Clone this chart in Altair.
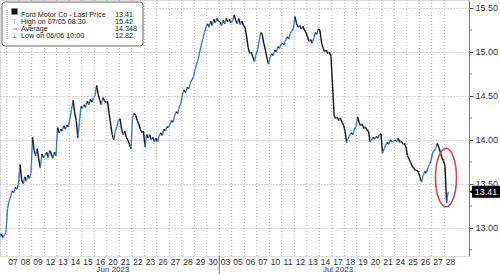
import altair as alt
import pandas as pd

# ---- data -------------------------------------------------------------
day_labels = ["06", "07", "08", "09", "12", "13", "14", "15", "16", "20", "21", "22",
              "23", "26", "27", "28", "29", "30", "03", "05", "06", "07", "10", "11",
              "12", "13", "14", "17", "18", "19", "20", "21", "24", "25", "26", "27", "28"]
month_names = ["Jun 2023", "Jul 2023"]
month_of_day = ["Jun"] * 18 + ["Jul"] * 19

prices = [
    [12.92, 12.88, 12.84, 12.90, 12.93, 12.89, 12.92, 12.95],  # Jun 06
    [13.22, 13.30, 13.36, 13.42, 13.40, 13.46, 13.44, 13.50],  # Jun 07
    [13.72, 13.55, 13.50, 13.58, 13.53, 13.60, 13.56, 13.62],  # Jun 08
    [14.03, 13.88, 13.82, 13.90, 13.78, 13.68, 13.84, 13.80],  # Jun 09
    [13.82, 13.86, 13.80, 13.88, 13.84, 13.79, 13.86, 13.82],  # Jun 12
    [14.14, 14.08, 14.12, 14.10, 14.16, 14.12, 14.17, 14.15],  # Jun 13
    [14.25, 14.35, 14.45, 14.30, 14.22, 14.02, 14.20, 14.38],  # Jun 14
    [14.36, 14.40, 14.37, 14.44, 14.40, 14.46, 14.43, 14.48],  # Jun 15
    [14.50, 14.62, 14.52, 14.45, 14.40, 14.48, 14.45, 14.42],  # Jun 16
    [14.44, 14.30, 14.18, 14.06, 14.00, 14.10, 14.15, 14.22],  # Jun 20
    [14.24, 14.12, 14.06, 14.10, 14.03, 14.00, 13.95, 13.90],  # Jun 21
    [14.25, 14.30, 14.28, 14.22, 14.18, 14.12, 14.08, 14.10],  # Jun 22
    [13.92, 14.06, 14.02, 14.06, 14.00, 14.03, 13.98, 14.02],  # Jun 23
    [13.98, 14.04, 14.08, 14.05, 14.12, 14.10, 14.15, 14.14],  # Jun 26
    [14.18, 14.22, 14.20, 14.28, 14.32, 14.30, 14.38, 14.42],  # Jun 27
    [14.52, 14.57, 14.54, 14.60, 14.58, 14.65, 14.68, 14.72],  # Jun 28
    [14.80, 14.86, 14.92, 15.00, 15.08, 15.15, 15.22, 15.28],  # Jun 29
    [15.32, 15.28, 15.35, 15.30, 15.37, 15.33, 15.38, 15.35],  # Jun 30
    [15.34, 15.30, 15.36, 15.32, 15.38, 15.34, 15.37, 15.33],  # Jul 03
    [15.35, 15.42, 15.36, 15.32, 15.38, 15.31, 15.35, 15.30],  # Jul 05
    [15.28, 15.18, 15.05, 14.98, 15.00, 14.94, 14.89, 14.97],  # Jul 06
    [15.02, 15.12, 15.22, 15.20, 15.10, 15.02, 14.93, 14.86],  # Jul 07
    [14.94, 14.98, 14.96, 15.02, 15.00, 15.06, 15.04, 15.08],  # Jul 10
    [15.10, 15.08, 15.14, 15.17, 15.15, 15.21, 15.24, 15.27],  # Jul 11
    [15.40, 15.32, 15.28, 15.30, 15.26, 15.29, 15.25, 15.22],  # Jul 12
    [15.17, 15.12, 15.14, 15.10, 15.16, 15.22, 15.20, 15.26],  # Jul 13
    [15.24, 15.10, 15.04, 15.00, 15.02, 14.98, 15.00, 14.95],  # Jul 14
    [14.62, 14.28, 14.24, 14.26, 14.22, 14.25, 14.20, 14.17],  # Jul 17
    [14.10, 13.97, 14.02, 14.05, 14.08, 14.06, 14.12, 14.15],  # Jul 18
    [14.26, 14.20, 14.16, 14.18, 14.13, 14.15, 14.11, 14.10],  # Jul 19
    [13.98, 14.00, 14.03, 14.01, 14.04, 14.02, 14.06, 14.07],  # Jul 20
    [13.85, 13.90, 13.94, 13.97, 13.95, 14.00, 13.98, 13.98],  # Jul 21
    [14.00, 13.98, 14.02, 13.97, 13.99, 13.95, 13.96, 13.92],  # Jul 24
    [13.82, 13.78, 13.74, 13.70, 13.68, 13.65, 13.66, 13.63],  # Jul 25
    [13.58, 13.52, 13.60, 13.64, 13.62, 13.68, 13.72, 13.76],  # Jul 26
    [13.85, 13.88, 13.90, 13.96, 13.92, 13.86, 13.80, 13.76],  # Jul 27
    [13.70, 13.28, 13.41],                                     # Jul 28
]

y_ticks = [13.0, 13.5, 14.0, 14.5, 15.0, 15.5]
y_minor = [12.75, 13.25, 13.75, 14.25, 14.75, 15.25]

legend_names = ["Ford Motor Co - Last Price", "High on 07/05 08:30", "Average", "Low on 06/06 10:00"]
legend_values = ["13.41", "15.42", "14.348", "12.82"]
legend_icons = ["", "\u22a4", "\u2192", "\u22a5"]
last_price = 13.41

FONT = "Liberation Sans"

# ---- tables -------------------------------------------------------------
SLOTS = 8
pts = []
for d, vals in enumerate(prices):
    for j, v in enumerate(vals):
        pts.append((d - 1 - 0.5 + (j + 0.5) / SLOTS, v))
seg = pd.DataFrame([
    {"x": pts[k][0], "x2": pts[k + 1][0], "y": pts[k][1], "y2": pts[k + 1][1],
     "dir": "up" if pts[k + 1][1] >= pts[k][1] else "down"}
    for k in range(len(pts) - 1)
])

n_vis = len(day_labels) - 1
bounds = pd.DataFrame({"b": [i - 0.5 for i in range(n_vis)]})
days_df = pd.DataFrame({"t": list(range(n_vis)), "lab": day_labels[1:]})
jun_idx = [i - 1 for i, m in enumerate(month_of_day) if m == "Jun" and i > 0]
jul_idx = [i - 1 for i, m in enumerate(month_of_day) if m == "Jul"]
months = pd.DataFrame({"t": [(jun_idx[0] + jun_idx[-1]) / 2, (jul_idx[0] + jul_idx[-1]) / 2],
                       "m": month_names})
sep = pd.DataFrame({"t": [jul_idx[0] - 0.5]})

xscale = alt.Scale(domain=[-1.04, 36.48], nice=False, zero=False)
yscale = alt.Scale(domain=[12.68, 15.59], nice=False, zero=False)

xaxis = alt.Axis(values=[0], labels=False, ticks=False, grid=False, title=None,
                 domainColor="#666")
yaxis = alt.Axis(orient="right", values=y_ticks, format=".2f", title=None, tickSize=4,
                 tickColor="#555", domainColor="#777", labelFontSize=9, labelColor="#333",
                 labelPadding=2, grid=True, gridDash=[1, 2], gridColor="#b0b0b0",
                 labelFont=FONT)

vgrid = alt.Chart(bounds).mark_rule(strokeDash=[1, 2], color="#b0b0b0", strokeWidth=1).encode(
    x=alt.X("b:Q", scale=xscale, axis=xaxis),
    y=alt.value(0), y2=alt.value(256),
)

line = alt.Chart(seg).mark_rule(strokeWidth=1.4, clip=True).encode(
    x=alt.X("x:Q", scale=xscale, axis=None),
    x2="x2:Q",
    y=alt.Y("y:Q", scale=yscale, axis=yaxis),
    y2="y2:Q",
    color=alt.Color("dir:N", scale=alt.Scale(domain=["up", "down"], range=["#3f7bc4", "#151515"]),
                    legend=None),
)

minor = alt.Chart(pd.DataFrame({"v": y_minor})).mark_tick(
    orient="horizontal", size=3, thickness=1, color="#555").encode(
    y=alt.Y("v:Q", scale=yscale, axis=None), x=alt.value(470.5))

day_text = alt.Chart(days_df).mark_text(fontSize=8.5, color="#333", font=FONT,
                                        baseline="middle").encode(
    x=alt.X("t:Q", scale=xscale, axis=None), y=alt.value(261.5), text="lab:N")

month_text = alt.Chart(months).mark_text(fontSize=8, color="#333", font=FONT,
                                         baseline="middle").encode(
    x=alt.X("t:Q", scale=xscale, axis=None), y=alt.value(269.5), text="m:N")

sep_rule = alt.Chart(sep).mark_rule(color="#666").encode(
    x=alt.X("t:Q", scale=xscale, axis=None), y=alt.value(256), y2=alt.value(274))

ell_path = "M 0 -1 A 0.36 1 0 1 0 0 1 A 0.36 1 0 1 0 0 -1 Z"
ellipse = alt.Chart(pd.DataFrame({"t": [len(day_labels) - 2 - 0.36], "v": [13.57]})).mark_point(
    shape=ell_path, size=3400, filled=False, color="#d0484a", strokeWidth=1.6, opacity=1).encode(
    x=alt.X("t:Q", scale=xscale, axis=None), y=alt.Y("v:Q", scale=yscale, axis=None))

tag_df = pd.DataFrame({"v": [last_price], "s": ["%.2f" % last_price]})
tag_box = alt.Chart(tag_df).mark_tick(orient="horizontal", size=28, thickness=12, color="#000",
                                      opacity=1).encode(
    y=alt.Y("v:Q", scale=yscale, axis=None), x=alt.value(486))
tag_arrow = alt.Chart(tag_df).mark_point(shape="triangle-left", filled=True, size=40,
                                         color="#000", opacity=1).encode(
    y=alt.Y("v:Q", scale=yscale, axis=None), x=alt.value(472))
tag_text = alt.Chart(tag_df).mark_text(color="white", fontSize=9, font=FONT).encode(
    y=alt.Y("v:Q", scale=yscale, axis=None), x=alt.value(486), text="s:N")

leg_df = pd.DataFrame({"name": legend_names, "val": legend_values, "icon": legend_icons,
                       "row": list(range(len(legend_names)))})
row_scale = alt.Scale(range=[11.5, 39.5])
leg_box = alt.Chart(pd.DataFrame({"a": [0]})).mark_rect(
    fill="white", stroke="#666", strokeWidth=1, cornerRadius=3).encode(
    x=alt.value(2), x2=alt.value(143), y=alt.value(2), y2=alt.value(46))
leg_tree = alt.Chart(pd.DataFrame({"a": [0]})).mark_rule(strokeDash=[1, 1], color="#999").encode(
    x=alt.value(7), y=alt.value(10), y2=alt.value(40))
leg_sq = alt.Chart(pd.DataFrame({"a": [0]})).mark_square(
    size=36, color="#000", opacity=1, stroke="#888", strokeWidth=0.5).encode(
    x=alt.value(14.5), y=alt.value(11.5))
leg_names = alt.Chart(leg_df).mark_text(align="left", baseline="middle", fontSize=7.2,
                                        color="#222", font=FONT).encode(
    x=alt.value(21), y=alt.Y("row:O", scale=row_scale, axis=None), text="name:N")
leg_vals = alt.Chart(leg_df).mark_text(align="left", baseline="middle", fontSize=7.2,
                                       color="#222", font=FONT).encode(
    x=alt.value(115), y=alt.Y("row:O", scale=row_scale, axis=None), text="val:N")
leg_icons = alt.Chart(leg_df).mark_text(align="center", baseline="middle", fontSize=6.5,
                                        color="#777", font="DejaVu Sans").encode(
    x=alt.value(14.5), y=alt.Y("row:O", scale=row_scale, axis=None), text="icon:N")

legend = alt.layer(leg_box, leg_tree, leg_sq, leg_names, leg_vals, leg_icons)

chart = alt.layer(
    vgrid, line, minor, day_text, month_text, sep_rule, ellipse, tag_box, tag_arrow, tag_text, legend
).resolve_scale(y="independent").properties(
    width=469, height=256,
    autosize=alt.AutoSizeParams(type="none"),
    padding={"left": 0, "top": 0, "right": 31, "bottom": 18},
).configure_view(stroke=None).configure(background="white")

chart.save("out.html", embed_options={"renderer": "svg", "actions": False})
